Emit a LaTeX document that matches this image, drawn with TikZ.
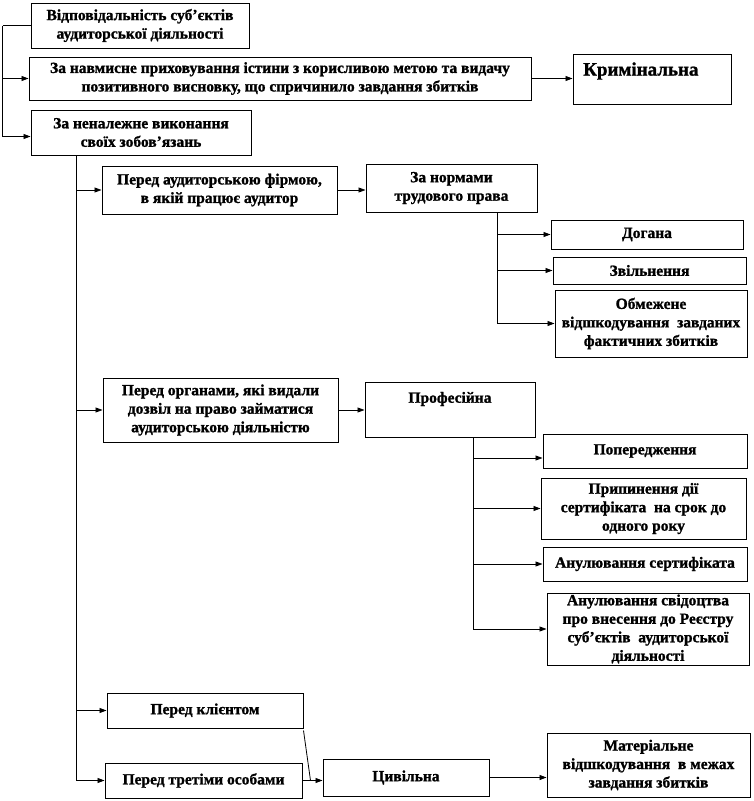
\documentclass[tikz,border=0pt]{standalone}
\usepackage{fontspec}
\setmainfont{Liberation Serif}[BoldFeatures={FakeBold=1.2}]
\usetikzlibrary{arrows.meta}
\newcommand\mkbox[6]{\node[bx, minimum width={#4-#2}, minimum height={#5-#3}] (#1) at ({(#2+#4)/2},{(#3+#5)/2}) {#6};}
\begin{document}
\begin{tikzpicture}[x=1pt,y=-1pt,
  bx/.style={draw, line width=1pt, inner sep=0pt, align=center, font=\bfseries\fontsize{15.5}{18.5}\selectfont},
  txt/.style={inner sep=0pt, align=center, font=\bfseries\fontsize{15.5}{18.5}\selectfont},
  con/.style={line width=0.8pt},
  arr/.style={con, -{Triangle[length=7pt,width=5pt]}}]
\useasboundingbox (0,0) rectangle (753,801);
\fill[white] (0,0) rectangle (753,801);
% boxes
\mkbox{b1}{31}{3}{249}{48}{Відповідальність суб’єктів\\аудиторської діяльності}
\mkbox{b2}{29}{57}{531}{100}{За навмисне приховування істини з корисливою метою та видачу\\позитивного висновку, що спричинило завдання збитків}
\mkbox{b3}{573}{54}{731}{104}{}
\node[txt, anchor=west, font=\bfseries\fontsize{19}{22}\selectfont] (t3) at (583,71) {Кримінальна};
\mkbox{b4}{31}{110}{251}{155}{За неналежне виконання\\своїх зобов’язань}
\mkbox{b5}{102}{166}{337}{214}{Перед аудиторською фірмою,\\в якій працює аудитор}
\mkbox{b6}{366}{164}{537}{212}{За нормами\\трудового права}
\mkbox{b7}{551}{220}{743}{249}{Догана}
\mkbox{b8}{553}{257}{746}{284}{Звільнення}
\mkbox{b9}{555}{290}{747}{357}{Обмежене\\відшкодування \ завданих\\фактичних збитків}
\mkbox{b10}{103}{378}{338}{442}{Перед органами, які видали\\дозвіл на право займатися\\аудиторською діяльністю}
\mkbox{b11}{365}{382}{535}{437}{}
\node[txt] (t11) at (450,399) {Професійна};
\mkbox{b12}{543}{434}{747}{468}{Попередження}
\mkbox{b13}{541}{478}{746}{539}{Припинення дії\\сертифіката \ на срок до\\одного року}
\mkbox{b14}{543}{547}{747}{581}{Анулювання сертифіката}
\mkbox{b15}{547}{593}{749}{665}{Анулювання свідоцтва\\про внесення до Реєстру\\суб’єктів \ аудиторської\\діяльності}
\mkbox{b16}{107}{693}{303}{728}{Перед клієнтом}
\mkbox{b17}{105}{763}{302}{798}{Перед третіми особами}
\mkbox{b18}{323}{759}{489}{796}{Цивільна}
\mkbox{b19}{547}{733}{750}{797}{Матеріальне\\відшкодування \ в межах\\завдання збитків}
% left connector
\draw[con] (b1.west) -- ++(-28,0) coordinate (L);
\draw[arr] (L) |- ([yshift=-4]b4.west);
\draw[arr] (L |- b2.west) -- (b2.west);
\draw[arr] (b2.east) -- (b2.east -| b3.west);
% main trunk
\coordinate (T0) at ([xshift=-65]b4.south);
\draw[con] (T0) -- (T0 |- b17.west);
\draw[arr] (T0 |- b5.west) -- (b5.west);
\draw[arr] (T0 |- b10.west) -- (b10.west);
\draw[arr] (T0 |- b16.west) -- (b16.west);
\draw[arr] (T0 |- b17.west) -- (b17.west);
% labour law
\draw[arr] (b5.east) -- (b5.east -| b6.west);
\coordinate (T1) at ([xshift=45.5]b6.south);
\draw[con] (T1) -- (T1 |- b9.west);
\draw[arr] (T1 |- b7.west) -- (b7.west);
\draw[arr] (T1 |- b8.west) -- (b8.west);
\draw[arr] (T1 |- b9.west) -- (b9.west);
% professional
\draw[arr] (b10.east) -- (b10.east -| b11.west);
\coordinate (T2) at ([xshift=23]b11.south);
\draw[con] (T2) -- (T2 |- b15.west);
\draw[arr] (T2 |- 0,458) -- (b12.west |- 0,458);
\draw[arr] (T2 |- b13.west) -- (b13.west);
\draw[arr] (T2 |- b14.west) -- (b14.west);
\draw[arr] (T2 |- b15.west) -- (b15.west);
% civil
\coordinate (J) at ([xshift=8]b17.east);
\draw[con] ([yshift=-2]b16.south east) -- (J);
\draw[arr] (b17.east) -- (b17.east -| b18.west);
\draw[arr] (b18.east) -- (b18.east -| b19.west);
\end{tikzpicture}
\end{document}
